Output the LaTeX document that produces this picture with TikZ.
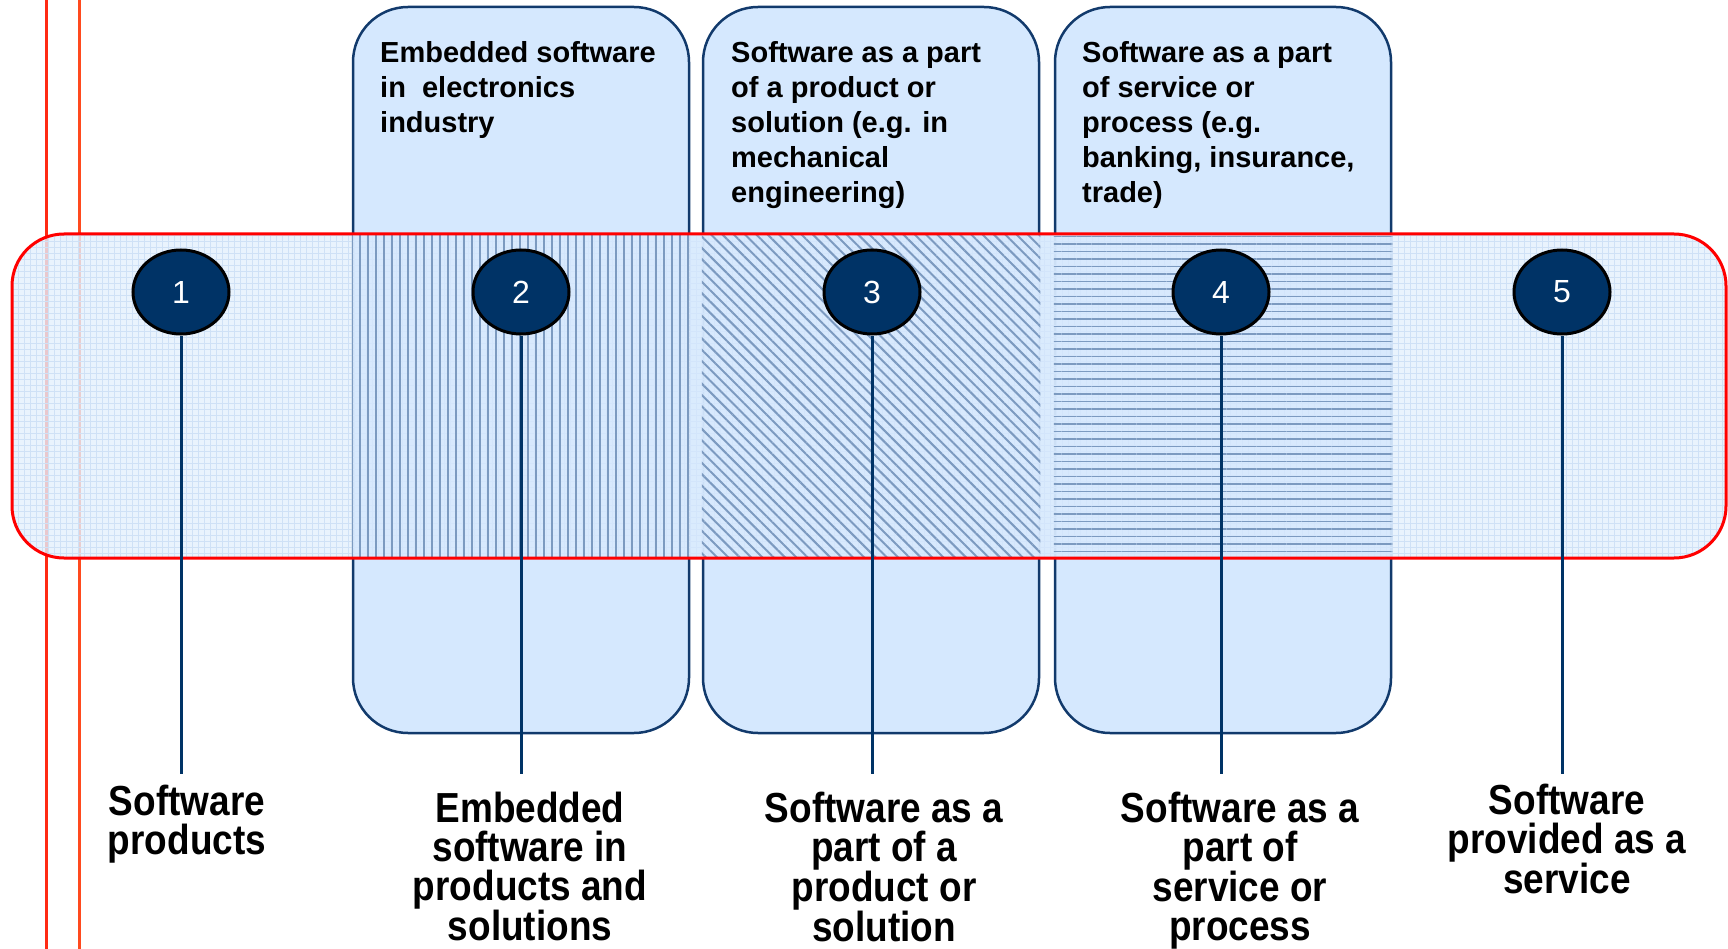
\documentclass[tikz,border=0pt]{standalone}
\usepackage{fontspec}
\setmainfont{Liberation Sans}
\newfontfamily\labelfont[FakeStretch=0.88]{Liberation Sans}
\usetikzlibrary{shapes.geometric,patterns.meta}

\definecolor{navy}{HTML}{003366}
\definecolor{colline}{HTML}{123A6C}
\definecolor{colfill}{HTML}{D5E8FE}
\definecolor{bandfill}{HTML}{E4F0FD}
\definecolor{bandgrid}{HTML}{CFE1F6}
\definecolor{hatchline}{HTML}{7C9AC0}
\definecolor{lineone}{HTML}{FF2A14}
\definecolor{linetwo}{HTML}{FF4A1E}

\tikzset{
	colbox/.style={draw=colline, line width=2.5pt, fill=colfill, rounded corners=55pt,
		minimum width=336pt, minimum height=726pt, inner sep=0pt},
	num/.style={ellipse, draw=black, line width=3pt, fill=navy, text=white,
		minimum width=96pt, minimum height=84pt, inner sep=0pt, font=\fontsize{32}{32}\selectfont},
	head/.style={anchor=north west, align=left, inner sep=0pt,
		font=\fontsize{29}{35}\selectfont\bfseries},
	caption/.style={anchor=north, align=center, inner sep=0pt,
		font=\labelfont\fontsize{42}{39}\selectfont\bfseries},
	stem/.style={draw=navy, line width=3pt},
}

\begin{document}
\begin{tikzpicture}[x=1pt, y=-1pt]
			\useasboundingbox (0,0) rectangle (1728,949);

			% red margin lines
			\draw[lineone, line width=3pt] (46,0) -- (46,949);
			\draw[linetwo, line width=3pt] (79,0) -- (79,949);

			% columns
			\node[colbox] (col2) at (521,370) {};
			\node[colbox] (col3) at (871,370) {};
			\node[colbox] (col4) at (1223,370) {};
			\node[head] (h2) at (380,41) {Embedded software\\in~ electronics\\industry};
			\node[head] (h3) at (731,41) {Software as a part\\of a product or\\solution (e.g. in\\mechanical\\engineering)};
			\node[head] (h4) at (1082,41) {Software as a part\\of service or\\process (e.g.\\banking, insurance,\\trade)};

			% band
			\coordinate (bt) at (0,234);
			\coordinate (bb) at (0,558);
			\fill[bandfill, fill opacity=0.8, rounded corners=52pt] (12,234) rectangle (1726,558);
			\begin{scope}
				\clip[rounded corners=52pt] (12,234) rectangle (1726,558);
				\fill[pattern={Hatch[angle=0, distance=6pt, line width=0.6pt]}, pattern color=bandgrid] (12,234) rectangle (1726,558);
				\fill[colfill, fill opacity=0.7] (col2.west |- bt) rectangle (col4.east |- bb);
				\fill[pattern={Lines[angle=90, distance=8pt, line width=2.2pt]}, pattern color=hatchline] (col2.west |- bt) rectangle (col2.east |- bb);
				\fill[pattern={Lines[angle=-45, distance=8pt, line width=2pt]}, pattern color=hatchline] (col3.west |- bt) rectangle (col3.east |- bb);
				\fill[pattern={Lines[angle=0, distance=7.5pt, line width=1.6pt]}, pattern color=hatchline] (col4.west |- bt) rectangle (col4.east |- bb);
			\end{scope}
			\draw[red, line width=3pt, rounded corners=52pt] (12,234) rectangle (1726,558);

			% numbered circles
			\coordinate (bottom) at (0,774);
			\node[num] (c1) at (181,292) {1};
			\node[num] (c2) at (521,292) {2};
			\node[num] (c3) at (872,292) {3};
			\node[num] (c4) at (1221,292) {4};
			\node[num] (c5) at (1562,292) {5};
			\foreach \i in {1,...,5}
				\draw[stem] (c\i.south) -- (c\i.south |- bottom);

			% captions
			\node[caption] (l1) at (187,785) {Software\\products};
			\node[caption] (l2) at (530,792) {Embedded\\software in\\products and\\solutions};
			\node[caption] (l3) at (884,792) {Software as a\\part of a\\product or\\solution};
			\node[caption] (l4) at (1240,792) {Software as a\\part of\\service or\\process};
			\node[caption] (l5) at (1567,784) {Software\\provided as a\\service};
		\end{tikzpicture}
\end{document}
